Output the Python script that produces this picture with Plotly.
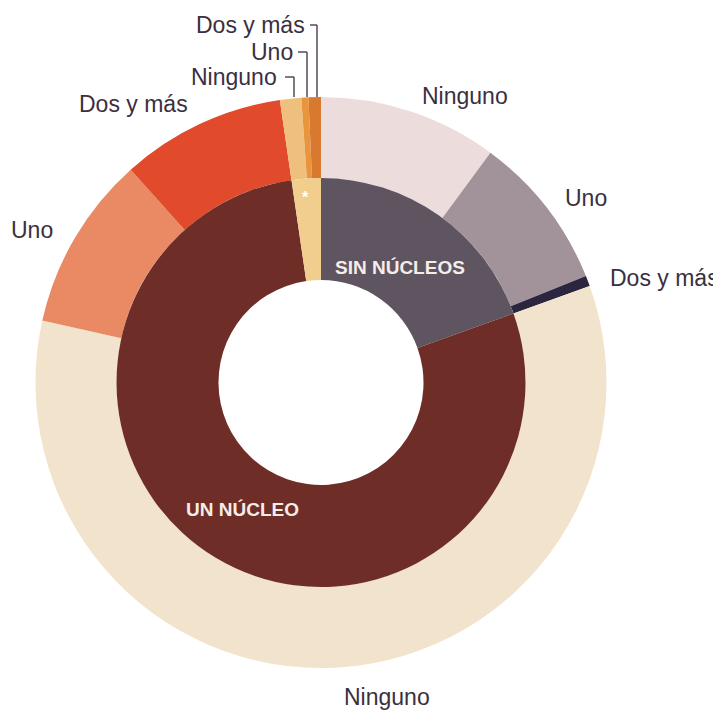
import plotly.graph_objects as go

# ---------------- data ----------------
groups = ["SIN NÚCLEOS", "UN NÚCLEO", "*"]
sub_labels = ["Ninguno", "Uno", "Dos y más"]
sin_nucleos = [10.1, 8.8, 0.6]
un_nucleo = [58.9, 9.9, 9.3]
asterisco = [1.2, 0.4, 0.7]

inner_colors = ["#5f5560", "#6e2e27", "#f1cd8e"]
outer_colors = [
    "#ecdcdc", "#a2939b", "#2c2540",
    "#f2e3cc", "#e98a64", "#e24a2c",
    "#efbf7d", "#e8953d", "#d9782f",
]

outer_values = sin_nucleos + un_nucleo + asterisco
outer_labels = [f"{g} – {s}" for g in groups for s in sub_labels]
inner_values = [sum(sin_nucleos), sum(un_nucleo), sum(asterisco)]

# ---------------- geometry (pixels in the window) ----------------
OFF = 8  # page body margin
W, H = 721 - OFF, 712 - OFF
CX, CY = 321, 382.5
R_OUT, R_MID, R_IN = 285.5, 204.5, 102.5


def px(x, y):
    return (x - OFF) / W, 1 - (y - OFF) / H


def dom(r):
    x0, y0 = px(CX - r, CY + r)
    x1, y1 = px(CX + r, CY - r)
    return dict(x=[x0, x1], y=[y0, y1])


fig = go.Figure()
fig.add_trace(go.Pie(
    values=outer_values, labels=outer_labels, sort=False,
    direction="clockwise", rotation=0, hole=R_MID / R_OUT,
    domain=dom(R_OUT), textinfo="none", hoverinfo="label+value",
    marker=dict(colors=outer_colors, line=dict(width=0)),
    showlegend=False,
))
fig.add_trace(go.Pie(
    values=inner_values, labels=groups, sort=False,
    direction="clockwise", rotation=0, hole=R_IN / R_MID,
    domain=dom(R_MID), textinfo="none", hoverinfo="label+value",
    marker=dict(colors=inner_colors, line=dict(width=0)),
    showlegend=False,
))

FONT = "Liberation Sans, Arial, sans-serif"
TXT = "#3b3040"
annots = []


def lab(text, x, y, xanchor="center", size=23, color=TXT, bold=False):
    xp, yp = px(x, y)
    annots.append(dict(
        text=f"<b>{text}</b>" if bold else text, x=xp, y=yp,
        xref="paper", yref="paper", xanchor=xanchor, yanchor="middle",
        showarrow=False, font=dict(family=FONT, size=size, color=color),
    ))


# outer labels
lab("Ninguno", 465, 96)
lab("Uno", 586, 198)
lab("Dos y más", 664, 278)
lab("Uno", 32, 230)
lab("Dos y más", 133, 104)
lab("Ninguno", 387, 697)
# small slice labels (right aligned)
lab("Dos y más", 307, 25, xanchor="right")
lab("Uno", 295, 52, xanchor="right")
lab("Ninguno", 279, 77, xanchor="right")
# inner labels
lab("SIN NÚCLEOS", 400, 267, size=19, color="#f6ece8", bold=True)
lab("UN NÚCLEO", 242, 509, size=19, color="#f6ece8", bold=True)
lab("*", 305, 197, size=16, color="#ffffff", bold=True)

# leader lines for small slices
shapes = []
for (x0, x1, y0) in [(310, 317, 25), (298, 307, 52), (285, 294, 77)]:
    for (a, b) in [((x0, y0), (x1, y0)), ((x1, y0), (x1, 97))]:
        ax, ay = px(*a)
        bx, by = px(*b)
        shapes.append(dict(type="line", xref="paper", yref="paper",
                           x0=ax, y0=ay, x1=bx, y1=by,
                           line=dict(color=TXT, width=1.3)))

fig.update_layout(
    width=W, height=H, margin=dict(l=0, r=0, t=0, b=0),
    paper_bgcolor="white", plot_bgcolor="white",
    annotations=annots, shapes=shapes,
)

fig.write_html("out.html")
